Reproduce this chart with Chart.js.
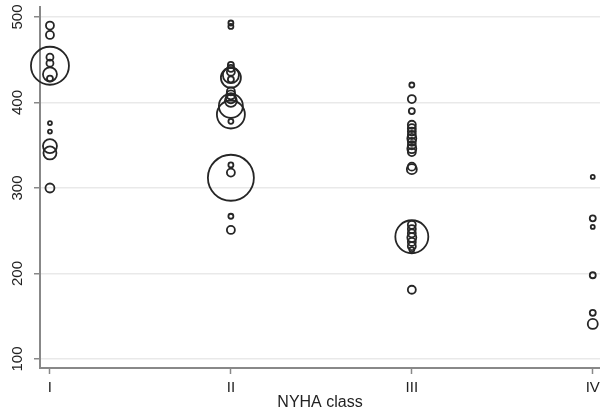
<!DOCTYPE html>
<html><head><meta charset="utf-8">
<script src="https://cdn.jsdelivr.net/npm/chart.js@4"></script>
<style>html,body{margin:0;padding:0;background:#fff}#wrap{width:600px;height:409px}</style>
</head><body><div id="wrap"><canvas id="c" width="600" height="409"></canvas></div>
<script>
const categories = ["I", "II", "III", "IV"];
const yTicks = [100, 200, 300, 400, 500];
const xTitle = "NYHA class";

// Values (y) and bubble weights (radius) per NYHA class
const classI_values  = [490, 479, 443, 453, 446, 433, 428, 376, 366, 349, 341, 300];
const classI_sizes   = [4, 4, 19, 3.5, 3.5, 7, 3, 2, 2, 7, 6.5, 4.5];
const classII_values = [493, 489, 444, 440, 436, 432, 429, 427, 413, 409, 405, 402, 396, 386, 378, 312, 327, 318, 267, 251];
const classII_sizes  = [2.5, 2.5, 3, 3.5, 4, 8, 10, 3, 4, 4.5, 5, 6, 12, 14, 2.5, 23, 2.5, 4, 2.5, 4];
const classIII_values = [420.5, 404, 390, 374, 370, 366, 362, 358, 354, 350, 346, 342, 325, 322, 243, 257, 252, 247, 242, 237, 232, 228, 181];
const classIII_sizes  = [2.5, 4, 3, 4, 4, 4, 4, 4.5, 4, 4, 4.5, 4, 4, 5, 16.5, 4, 4, 4, 4.5, 4, 4, 2.5, 4];
const classIV_values = [313, 264.5, 254.5, 198, 154, 141];
const classIV_sizes  = [2, 3, 2, 3, 3, 5];

const groups = [
  [classI_values, classI_sizes],
  [classII_values, classII_sizes],
  [classIII_values, classIII_sizes],
  [classIV_values, classIV_sizes]
];
const points = [];
groups.forEach((g, i) => {
  g[0].forEach((v, j) => points.push({ x: i + 1, y: v, r: g[1][j] }));
});

const yLabelPlugin = {
  id: 'yLabels',
  afterDraw(chart) {
    const ctx = chart.ctx;
    const ys = chart.scales.y;
    ctx.save();
    ctx.fillStyle = '#222';
    ctx.font = '15px "Liberation Sans", Arial, sans-serif';
    ctx.textAlign = 'center';
    ctx.textBaseline = 'middle';
    yTicks.forEach(t => {
      const py = ys.getPixelForValue(t);
      ctx.save();
      ctx.translate(18, py);
      ctx.rotate(-Math.PI / 2);
      ctx.fillText(String(t), 0, 0);
      ctx.restore();
    });
    ctx.restore();
  }
};

new Chart(document.getElementById('c'), {
  type: 'bubble',
  data: {
    datasets: [{
      data: points,
      backgroundColor: 'rgba(0,0,0,0)',
      borderColor: '#262626',
      borderWidth: 1.8,
      hoverRadius: 0,
      clip: false
    }]
  },
  options: {
    responsive: false,
    animation: false,
    devicePixelRatio: 1,
    layout: { autoPadding: false, padding: { top: 7, right: 0, left: 0, bottom: 0 } },
    plugins: { legend: { display: false }, tooltip: { enabled: false } },
    scales: {
      x: {
        type: 'linear',
        min: 0.945,
        max: 4.04,
        afterBuildTicks(scale) { scale.ticks = categories.map((c, i) => ({ value: i + 1 })); },
        afterFit(scale) { scale.height = 41; scale.paddingLeft = 0; scale.paddingRight = 0; },
        ticks: {
          callback: (v) => categories[v - 1] || '',
          color: '#222',
          font: { size: 15, family: '"Liberation Sans", Arial, sans-serif' },
          padding: 5,
          maxRotation: 0,
          autoSkip: false
        },
        grid: { drawOnChartArea: false, drawTicks: true, tickLength: 6, tickColor: '#888', tickWidth: 1.5 },
        border: { color: '#888', width: 2 },
        title: {
          display: true,
          text: xTitle,
          color: '#222',
          font: { size: 16, family: '"Liberation Sans", Arial, sans-serif', lineHeight: 0.75 },
          padding: { top: 0, bottom: 0 }
        }
      },
      y: {
        type: 'linear',
        min: 89.5,
        max: 511.7,
        afterBuildTicks(scale) { scale.ticks = yTicks.map(v => ({ value: v })); },
        afterFit(scale) { scale.width = 40; scale.paddingTop = 0; scale.paddingBottom = 0; },
        ticks: { display: false },
        grid: { color: '#e9e9e9', lineWidth: 1.5, drawTicks: true, tickLength: 6, tickColor: '#888', tickWidth: 1.5 },
        border: { color: '#888', width: 2 }
      }
    }
  },
  plugins: [yLabelPlugin]
});
</script>
</body></html>
